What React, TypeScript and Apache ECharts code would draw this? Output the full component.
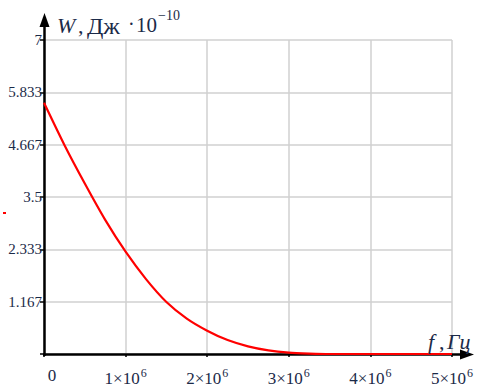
import React, { useEffect, useRef } from "react";
import * as echarts from "echarts";

// Frequency f, Hz
const fValues = [0, 0.25e6, 0.5e6, 0.75e6, 1.0e6, 1.25e6, 1.5e6, 1.75e6, 2.0e6, 2.25e6, 2.5e6, 2.75e6, 3.0e6, 3.25e6, 3.5e6, 4.0e6, 4.5e6, 5.0e6];
// Energy W, J·10^-10
const wValues = [5.6, 4.66, 3.8, 2.99, 2.28, 1.67, 1.16, 0.79, 0.52, 0.31, 0.17, 0.08, 0.03, 0.01, 0, 0, 0, 0];

const xMin = 0;
const xMax = 5e6;
const xStep = 1e6;
const yMin = 0;
const yMax = 7;
const yStep = 7 / 6;

const serif = "Liberation Serif";
const labelColor = "#1b2a48";

export default function App() {
  const ref = useRef<HTMLDivElement>(null);
  useEffect(() => {
    if (!ref.current) return;
    const chart = echarts.init(ref.current, null, { renderer: "svg" });
    const data = fValues.map((f, i) => [f, wValues[i]]);
    chart.setOption({
      animation: false,
      grid: { left: 44, right: 28, top: 40, bottom: 33 },
      xAxis: {
        type: "value",
        min: xMin,
        max: xMax,
        interval: xStep,
        axisLine: { show: false },
        axisTick: { show: true, length: 3, lineStyle: { color: "#000", width: 1.5 } },
        splitLine: { show: true, lineStyle: { color: "#d0d0d0", width: 1.5 } },
        axisLabel: {
          margin: 13,
          fontFamily: serif,
          fontSize: 17,
          color: labelColor,
          formatter: (v: number) =>
            v === 0 ? "{z|0}" : `{a|${Math.round(v / 1e6)}×10}{s|6}`,
          rich: {
            z: { fontFamily: serif, fontSize: 17, color: labelColor, padding: [0, 0, 0, 16] },
            a: { fontFamily: serif, fontSize: 17, color: labelColor },
            s: { fontFamily: serif, fontSize: 12, color: labelColor, verticalAlign: "bottom", padding: [0, 0, 10, 1] },
          },
        },
      },
      yAxis: {
        type: "value",
        min: yMin,
        max: yMax,
        interval: yStep,
        axisLine: { show: false },
        axisTick: { show: true, length: 4, lineStyle: { color: "#000", width: 1.5 } },
        splitLine: { show: true, lineStyle: { color: "#d0d0d0", width: 1.5 } },
        axisLabel: {
          margin: 2,
          fontFamily: serif,
          fontSize: 15,
          color: labelColor,
          formatter: (v: number) => (v === 0 ? "" : String(parseFloat(v.toFixed(3)))),
        },
      },
      series: [
        {
          type: "line",
          data,
          smooth: 0.25,
          symbol: "none",
          clip: false,
          z: 5,
          lineStyle: { color: "#ff0000", width: 2.2 },
        },
      ],
      graphic: [
        // y axis with arrow
        { type: "line", z: 1, shape: { x1: 44.5, y1: 356, x2: 44.5, y2: 22 }, style: { stroke: "#000", lineWidth: 2.5 } },
        { type: "polygon", z: 1, shape: { points: [[44.5, 13], [39.5, 27], [49.5, 27]] }, style: { fill: "#000" } },
        // x axis with arrow
        { type: "line", z: 1, shape: { x1: 43, y1: 354.5, x2: 466, y2: 354.5 }, style: { stroke: "#000", lineWidth: 2.5 } },
        { type: "polygon", z: 1, shape: { points: [[474, 354.5], [460, 349.5], [460, 359.5]] }, style: { fill: "#000" } },
        // y title
        { type: "text", z: 10, x: 57, y: 14, style: { text: "W", fontFamily: serif, fontStyle: "italic", fontSize: 22, fill: labelColor } },
        { type: "text", z: 10, x: 78, y: 14, style: { text: ",", fontFamily: serif, fontSize: 22, fill: labelColor } },
        { type: "text", z: 10, x: 87, y: 14, style: { text: "Дж", fontFamily: serif, fontSize: 24, fill: labelColor } },
        { type: "text", z: 10, x: 128, y: 14, style: { text: "·", fontFamily: serif, fontSize: 20, fill: labelColor } },
        { type: "text", z: 10, x: 136, y: 14, style: { text: "10", fontFamily: serif, fontSize: 21, fill: labelColor } },
        { type: "text", z: 10, x: 158, y: 8, style: { text: "−10", fontFamily: serif, fontSize: 14, fill: labelColor } },
        // x title
        { type: "text", z: 10, x: 428, y: 330, style: { text: "f", fontFamily: serif, fontStyle: "italic", fontSize: 22, fill: labelColor } },
        { type: "text", z: 10, x: 439, y: 330, style: { text: ",", fontFamily: serif, fontSize: 22, fill: labelColor } },
        { type: "text", z: 10, x: 447, y: 330, style: { text: "Гц", fontFamily: serif, fontStyle: "italic", fontSize: 22, fill: labelColor } },
        // stray red mark
        { type: "rect", z: 10, shape: { x: 3, y: 212, width: 3, height: 2 }, style: { fill: "#ff0000" } },
      ],
    });
    return () => chart.dispose();
  }, []);
  return <div ref={ref} style={{ width: 480, height: 387, position: "absolute", left: 0, top: 0, background: "#fff" }} />;
}
